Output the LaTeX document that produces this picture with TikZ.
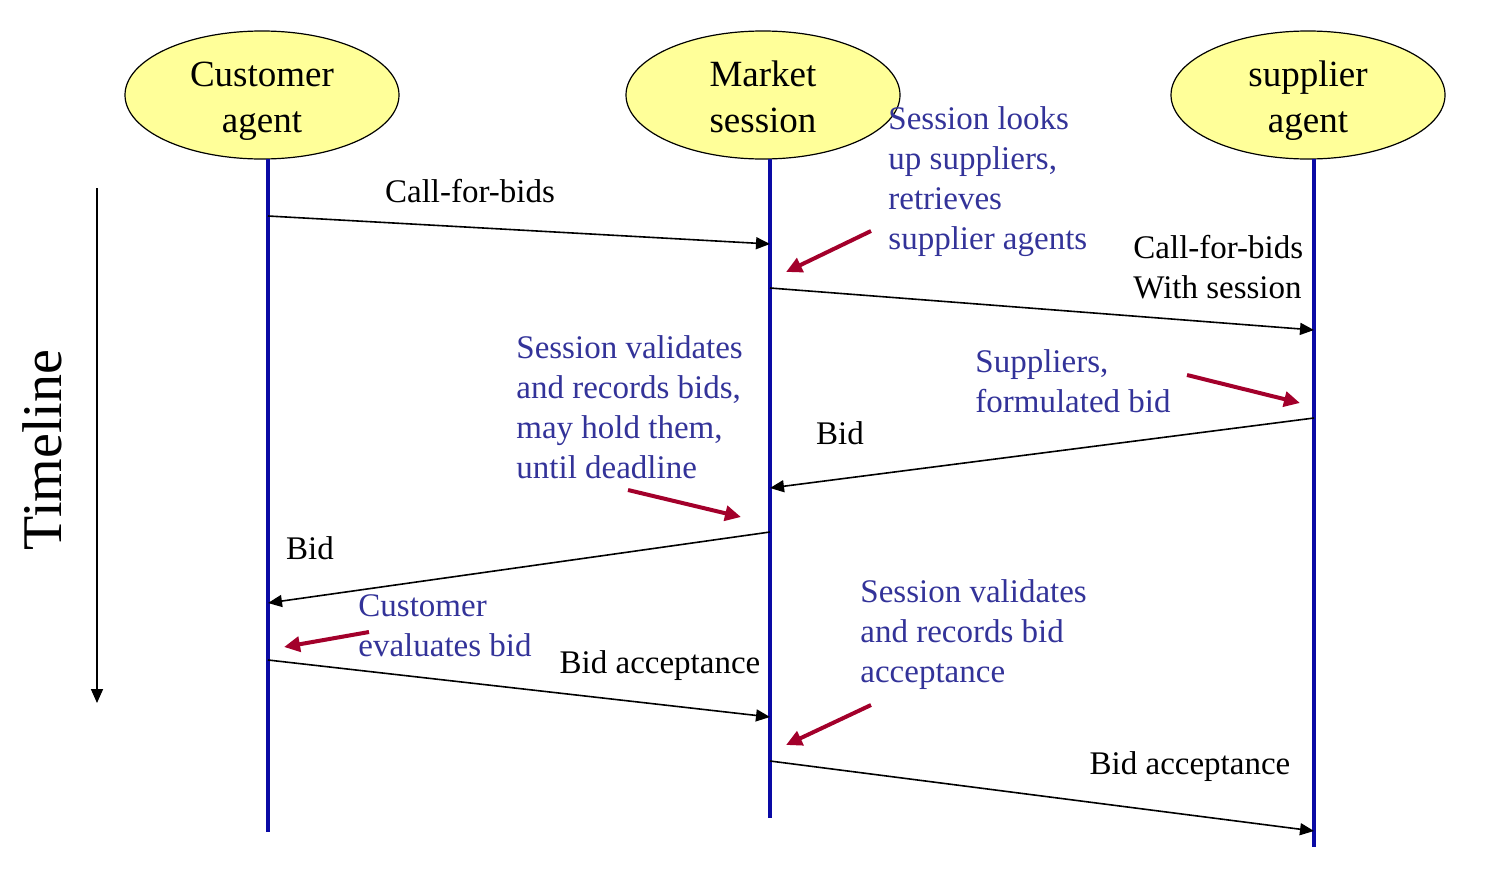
\documentclass[tikz,border=0pt]{standalone}
\usepackage{fontspec}
\setmainfont{Liberation Serif}
\usetikzlibrary{shapes.geometric,arrows.meta}
\definecolor{agentfill}{HTML}{FFFF99}
\definecolor{lifeblue}{HTML}{0A0AA5}
\definecolor{notetext}{HTML}{333399}
\definecolor{notered}{HTML}{A3002B}
\tikzset{
  agent/.style={ellipse,draw=black,line width=0.6pt,fill=agentfill,minimum width=137pt,minimum height=64pt,inner sep=0pt},
  agenttext/.style={inner sep=0pt,align=center,font=\fontsize{18.5}{23}\selectfont},
  life/.style={draw=lifeblue,line width=1.7pt},
  msg/.style={draw=black,line width=0.8pt,-{Triangle[length=7pt,width=6pt]}},
  msglabel/.style={inner sep=0pt,align=left,font=\fontsize{16.5}{20}\selectfont},
  note/.style={inner sep=0pt,align=left,text=notetext,font=\fontsize{16.5}{20}\selectfont},
  pointer/.style={draw=notered,line width=2pt,-{Triangle[length=8pt,width=7.5pt]}},
}
\begin{document}
\begin{tikzpicture}[x=0.5pt,y=-0.5pt]
\useasboundingbox (0,0) rectangle (1492,868);
% agents
\node[agent] (cust) at (262,95) {};
\node[agent] (mkt) at (763,95) {};
\node[agent] (supp) at (1308,95) {};
\node[agenttext] (custT) at ([yshift=-2.5pt]cust.center) {\strut Customer\\\strut agent};
\node[agenttext] (mktT) at ([yshift=-2.5pt]mkt.center) {\strut Market\\\strut session};
\node[agenttext] (suppT) at ([yshift=-2.5pt]supp.center) {\strut supplier\\\strut agent};
% lifeline ends
\coordinate (custTop) at (268,159);
\coordinate (custBot) at (268,832);
\coordinate (mktTop) at (770,159);
\coordinate (mktBot) at (770,818);
\coordinate (suppTop) at (1314,159);
\coordinate (suppBot) at (1314,847);
\draw[life] (custTop) -- (custBot);
\draw[life] (mktTop) -- (mktBot);
\draw[life] (suppTop) -- (suppBot);
% timeline
\coordinate (tlTop) at (97,188);
\coordinate (tlBot) at (97,703);
\draw[line width=0.8pt,-{Triangle[length=7pt,width=6pt]}] (tlTop) -- (tlBot);
\node[rotate=90,inner sep=0pt,font=\fontsize{28}{32}\selectfont] (tl) at (42,450) {Timeline};
% message points
\coordinate (m1a) at (268,216);
\coordinate (m1b) at (770,244);
\coordinate (m2a) at (770,288);
\coordinate (m2b) at (1314,330);
\coordinate (m3a) at (1314,418);
\coordinate (m3b) at (770,488);
\coordinate (m4a) at (770,532);
\coordinate (m4b) at (268,603);
\coordinate (m5a) at (268,660);
\coordinate (m5b) at (770,717);
\coordinate (m6a) at (770,761);
\coordinate (m6b) at (1314,831);
\draw[msg] (m1a) -- (m1b);
\draw[msg] (m2a) -- (m2b);
\draw[msg] (m3a) -- (m3b);
\draw[msg] (m4a) -- (m4b);
\draw[msg] (m5a) -- (m5b);
\draw[msg] (m6a) -- (m6b);
% message labels
\node[msglabel] (l1) at (470,191) {Call-for-bids};
\node[msglabel,anchor=west] (l2) at (1133,267) {Call-for-bids\\With session};
\node[msglabel] (l3) at (840,433) {Bid};
\node[msglabel] (l4) at (310,548) {Bid};
\node[msglabel] (l5) at (660,666) {Bid acceptance};
\node[msglabel] (l6) at (1190,767) {Bid acceptance};
% notes
\node[note,anchor=west] (n1) at (888,182) {Session looks\\up suppliers,\\retrieves\\supplier agents};
\node[note,anchor=west] (n2) at (516,407) {Session validates\\and records bids,\\may hold them,\\until deadline};
\node[note,anchor=west] (n3) at (975,381) {Suppliers,\\formulated bid};
\node[note,anchor=west] (n4) at (358,626) {Customer\\evaluates bid};
\node[note,anchor=west] (n5) at (860,635) {Session validates\\and records bid\\acceptance};
% pointer arrows
\coordinate (p1a) at (871,231); \coordinate (p1b) at (786,272);
\coordinate (p2a) at (1187,375); \coordinate (p2b) at (1300,403);
\coordinate (p3a) at (628,490); \coordinate (p3b) at (741,517);
\coordinate (p4a) at (369,632); \coordinate (p4b) at (284,647);
\coordinate (p5a) at (871,705); \coordinate (p5b) at (786,745);
\draw[pointer] (p1a) -- (p1b);
\draw[pointer] (p2a) -- (p2b);
\draw[pointer] (p3a) -- (p3b);
\draw[pointer] (p4a) -- (p4b);
\draw[pointer] (p5a) -- (p5b);
\end{tikzpicture}
\end{document}
